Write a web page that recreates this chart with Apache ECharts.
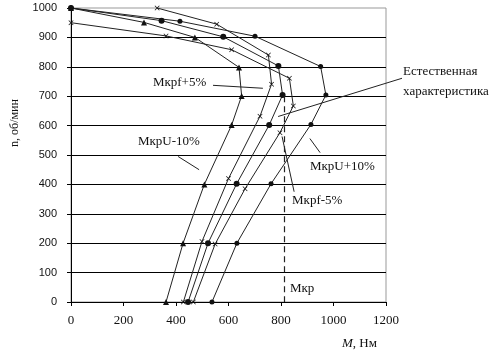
<!DOCTYPE html>
<html><head><meta charset="utf-8">
<script src="https://cdn.jsdelivr.net/npm/echarts@6/dist/echarts.min.js"></script>
<style>html,body{margin:0;padding:0;background:#fff}#c{width:504px;height:358px}</style>
</head><body><div id="c"></div>
<script>
// ---- data (torque M, Нм ; speed n, об/мин) ----
const xTicks = [0, 200, 400, 600, 800, 1000, 1200];
const yTicks = [0, 100, 200, 300, 400, 500, 600, 700, 800, 900, 1000];

const naturalM = [0, 345, 580, 790, 806, 755, 631, 522, 446];
const naturalN = [1000, 957, 902, 803, 704, 602, 402, 200, 0];

const uMinusM = [0, 278, 472, 640, 650, 612, 508, 427, 362];
const uMinusN = [1000, 951, 900, 798, 701, 602, 400, 200, 0];

const uPlusM = [0, 415, 701, 951, 971, 914, 762, 632, 537];
const uPlusN = [1000, 955, 904, 801, 704, 604, 402, 200, 0];

const fPlusM = [328, 555, 752, 764, 720, 600, 499, 428];
const fPlusN = [1000, 945, 840, 741, 632, 420, 206, 0];

const fMinusM = [0, 362, 612, 832, 847, 796, 663, 549, 466];
const fMinusN = [950, 905, 858, 761, 667, 576, 385, 197, 0];

const mCritical = 812;          // Мкр
const mCriticalTopN = 700;

// ---- chart ----
const pairs = (a, b) => a.map((v, i) => [v, b[i]]);
const X = 'path://M0,1L1,0L5,4L9,0L10,1L6,5L10,9L9,10L5,6L1,10L0,9L4,5Z';
const serif = 'Liberation Serif';
const sans = 'Liberation Sans';

function ser(name, M, N, symbol, size) {
  return {
    name, type: 'line', data: pairs(M, N), symbol, symbolSize: size,
    showAllSymbol: true, clip: false,
    lineStyle: { color: '#222', width: 1 },
    itemStyle: { color: '#111' },
    emphasis: { disabled: true }, z: 3
  };
}

const chart = echarts.init(document.getElementById('c'), null, { renderer: 'canvas' });
const series = [
  ser('natural', naturalM, naturalN, 'circle', 6),
  ser('U-10', uMinusM, uMinusN, 'triangle', 6),
  ser('U+10', uPlusM, uPlusN, 'circle', 5),
  ser('f+5', fPlusM, fPlusN, X, 5),
  ser('f-5', fMinusM, fMinusN, X, 5),
];
series.push({
  type: 'line', data: [], silent: true,
  markLine: {
    silent: true, symbol: 'none', label: { show: false },
    lineStyle: { color: '#222', type: [6, 4], width: 1.2 },
    data: [[{ coord: [mCritical, mCriticalTopN] }, { coord: [mCritical, 0] }]]
  }
});

chart.setOption({
  animation: false,
  backgroundColor: '#fff',
  grid: { left: 71, right: 118, top: 8, bottom: 56, show: true, borderColor: '#999', borderWidth: 1 },
  xAxis: {
    type: 'value', min: xTicks[0], max: xTicks[xTicks.length - 1], interval: 200,
    axisLine: { show: true, onZero: false, lineStyle: { color: '#000', width: 1 } },
    axisTick: { show: true, length: 4, lineStyle: { color: '#000' } },
    axisLabel: { color: '#111', fontFamily: serif, fontSize: 13, margin: 12, formatter: v => String(v) },
    splitLine: { show: false }
  },
  yAxis: {
    type: 'value', min: yTicks[0], max: yTicks[yTicks.length - 1], interval: 100,
    axisLine: { show: true, onZero: false, lineStyle: { color: '#000', width: 1 } },
    axisTick: { show: true, length: 4, lineStyle: { color: '#000' } },
    axisLabel: { color: '#111', fontFamily: sans, fontSize: 11, margin: 14, formatter: v => String(v) },
    splitLine: { show: true, showMaxLine: false, lineStyle: { color: '#000', width: 1 } }
  },
  series
});

// ---- annotations (anchored in data units) ----
const labels = [
  { t: 'Мкрf+5%', at: [312, 747] },
  { t: 'МкрU-10%', at: [255, 546] },
  { t: 'МкрU+10%', at: [910, 461] },
  { t: 'Мкрf-5%', at: [842, 345] },
  { t: 'Естественная', at: [1265, 785] },
  { t: 'характеристика', at: [1265, 717] },
  { t: 'Мкр', at: [834, 44] },
];
const pointers = [
  [[541, 737], [731, 727]],
  [[408, 495], [488, 450]],
  [[910, 556], [949, 508]],
  [[804, 563], [850, 375]],
  [[1261, 761], [789, 631]],
];
const px = p => chart.convertToPixel({ gridIndex: 0 }, p);
const g = [];
labels.forEach(l => {
  const p = px(l.at);
  g.push({ type: 'text', x: p[0], y: p[1], z: 10,
    style: { text: l.t, fill: '#111', font: '13px "Liberation Serif"', textAlign: 'left', textVerticalAlign: 'middle',
      backgroundColor: '#fff' } });
});
pointers.forEach(pp => {
  const a = px(pp[0]), b = px(pp[1]);
  g.push({ type: 'line', z: 9, shape: { x1: a[0], y1: a[1], x2: b[0], y2: b[1] },
    style: { stroke: '#222', lineWidth: 1 } });
});
g.push({ type: 'text', x: 15, y: 123, rotation: Math.PI / 2, z: 10,
  style: { text: 'n, об/мин', fill: '#111', font: '12px "Liberation Serif"', textAlign: 'center', textVerticalAlign: 'middle' } });
g.push({ type: 'text', x: 342, y: 344, z: 10,
  style: { text: '{i|M}, Нм', fill: '#111', font: '13px "Liberation Serif"', textVerticalAlign: 'middle',
    rich: { i: { fontStyle: 'italic', fontFamily: serif, fontSize: 13, fill: '#111' } } } });
chart.setOption({ graphic: g });
</script>
</body></html>
